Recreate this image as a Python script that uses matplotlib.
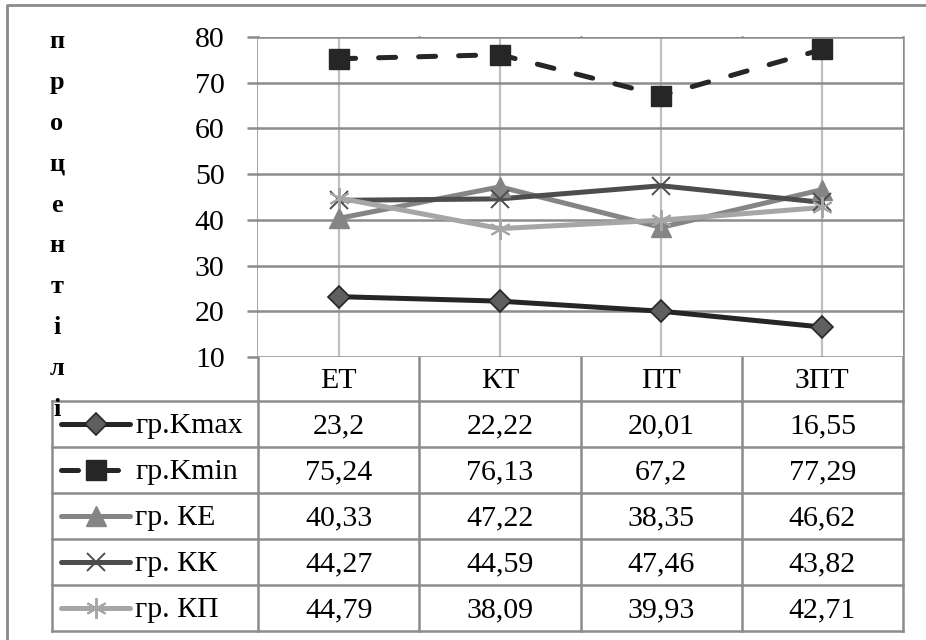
import matplotlib
matplotlib.use('Agg')
import matplotlib.pyplot as plt
from matplotlib.lines import Line2D

plt.rcParams['font.family'] = ['Liberation Serif', 'DejaVu Serif']

# дані з таблиці
categories = ['ЕТ', 'КТ', 'ПТ', 'ЗПТ']
series_names = ['гр.Kmax', 'гр.Kmin', 'гр. КЕ', 'гр. КК', 'гр. КП']
kmax = [23.2, 22.22, 20.01, 16.55]
kmin = [75.24, 76.13, 67.2, 77.29]
ke = [40.33, 47.22, 38.35, 46.62]
kk = [44.27, 44.59, 47.46, 43.82]
kp = [44.79, 38.09, 39.93, 42.71]
y_ticks = [10, 20, 30, 40, 50, 60, 70, 80]
y_label = 'процентілі'

series = [kmax, kmin, ke, kk, kp]
line_st = [
    dict(color='#262626', ls='-'),
    dict(color='#262626', ls=(0, (3.4, 4.6)), dash_capstyle='round'),
    dict(color='#858585', ls='-'),
    dict(color='#4d4d4d', ls='-'),
    dict(color='#a6a6a6', ls='-'),
]
mark_st = [
    dict(marker='D', ms=11, mfc='#5f5f5f', mec='#262626', mew=1.2),
    dict(marker='s', ms=14, mfc='#262626', mec='#262626'),
    dict(marker='^', ms=14, mfc='#858585', mec='#858585'),
    dict(marker='x', ms=13, mew=1.4, mec='#4d4d4d'),
    dict(marker=(6, 2, 0), ms=15, mew=1.4, mec='#a6a6a6'),
]
LW = 3.6
FS = 21.5

W, H = 926, 640
fig = plt.figure(figsize=(W / 100, H / 100), dpi=100)

# фон у піксельних координатах для таблиці і рамок
bg = fig.add_axes([0, 0, 1, 1])
bg.set_xlim(0, W)
bg.set_ylim(H, 0)
bg.axis('off')

grid_c = '#8c8c8c'
px_left, px_right = 258, 903
px_top, px_bottom = 37, 357
tab_left = 52
row_h = 46
cat_row_bottom = 401
col_w = (px_right - px_left) / len(categories)

ax = fig.add_axes([px_left / W, 1 - px_bottom / H, (px_right - px_left) / W, (px_bottom - px_top) / H])
ax.set_xlim(-0.5, len(categories) - 0.5)
ax.set_ylim(10, 80)
for s in ax.spines.values():
    s.set_visible(False)
ax.set_xticks([])
ax.set_yticks(y_ticks)
ax.set_yticklabels([str(t) for t in y_ticks], fontsize=FS)
ax.tick_params(axis='y', length=8, width=1.8, color=grid_c, pad=16)
ax.yaxis.grid(True, color=grid_c, lw=1.8)
ax.set_axisbelow(True)
for i in range(len(categories)):
    ax.axvline(i, color='#c0c0c0', lw=1.6, zorder=0)

xs = range(len(categories))
for vals, ls_, ms_ in zip(series, line_st, mark_st):
    ax.plot(xs, vals, lw=LW, solid_capstyle='round', zorder=3, clip_on=False, **ls_)
    ax.plot(xs, vals, ls='none', zorder=4, clip_on=False, color=ls_['color'], **ms_)

# зовнішня рамка
bg.plot([7, 7, W], [H, 5, 5], color='#8a8a8a', lw=2)

# таблиця даних
n_rows = len(series)
tab_bottom = cat_row_bottom + n_rows * row_h
for k in range(len(categories) + 1):
    x = px_left + k * col_w
    bg.plot([x, x], [px_top, tab_bottom], color=grid_c, lw=1.8)
bg.plot([tab_left, tab_left], [cat_row_bottom, tab_bottom], color=grid_c, lw=1.8)
for r in range(n_rows + 1):
    y = cat_row_bottom + r * row_h
    bg.plot([tab_left, px_right], [y, y], color=grid_c, lw=1.8)

for i, c in enumerate(categories):
    bg.text(px_left + (i + 0.5) * col_w, (px_bottom + cat_row_bottom) / 2 + 2, c,
            ha='center', va='center', fontsize=FS)

for r, (name, vals, ls_, ms_) in enumerate(zip(series_names, series, line_st, mark_st)):
    yc = cat_row_bottom + (r + 0.5) * row_h
    for i, v in enumerate(vals):
        bg.text(px_left + (i + 0.5) * col_w, yc + 2, f'{v:g}'.replace('.', ','),
                ha='center', va='center', fontsize=FS)
    bg.add_line(Line2D([61, 130], [yc, yc], lw=LW, solid_capstyle='round', **ls_))
    bg.plot([96], [yc], ls='none', color=ls_['color'], **ms_)
    bg.text(135, yc + 2, name, ha='left', va='center', fontsize=FS)

# вертикальний підпис осі
for i, ch in enumerate(y_label):
    bg.text(57, 42 + i * 40.8, ch, ha='center', va='center', fontsize=19, fontweight='bold')

fig.savefig('out.png', dpi=100)
